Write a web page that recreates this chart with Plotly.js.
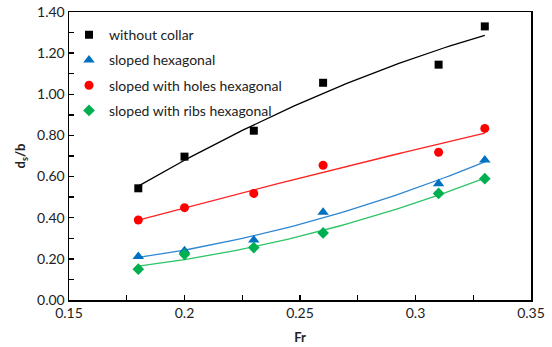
<!DOCTYPE html>
<html><head><meta charset="utf-8">
<script src="https://cdn.plot.ly/plotly-3.0.1.min.js"></script>
<style>html,body{margin:0;padding:0;background:#fff}#chart{width:552px;height:347px}</style>
</head><body><div id="chart"></div>
<script>
// Data
const fr = [0.18, 0.20, 0.23, 0.26, 0.31, 0.33];
const withoutCollar = [0.543, 0.697, 0.823, 1.056, 1.144, 1.330];
const slopedHex = [0.212, 0.240, 0.292, 0.427, 0.565, 0.680];
const slopedHoles = [0.389, 0.449, 0.518, 0.655, 0.718, 0.834];
const slopedRibs = [0.150, 0.222, 0.255, 0.326, 0.518, 0.590];
const seriesNames = ['without collar', 'sloped hexagonal', 'sloped with holes hexagonal', 'sloped with ribs hexagonal'];
const markerColors = ['#000000', '#0070C0', '#FF0000', '#00B050'];
const lineColors = ['#000000', '#2E86D1', '#FF2020', '#2CC466'];
const symbols = ['square', 'triangle-up', 'circle', 'diamond'];
const sizes = [8, 10, 9, 9];
const xTickVals = [0.15, 0.2, 0.25, 0.3, 0.35];
const xTickText = ['0.15', '0.2', '0.25', '0.3', '0.35'];

// Quadratic least-squares trendline (as a spreadsheet polynomial trendline)
function polyFit2(xs, ys) {
  let S = [0,0,0,0,0], T = [0,0,0];
  for (let i = 0; i < xs.length; i++) {
    let p = 1;
    for (let k = 0; k < 5; k++) { S[k] += p; if (k < 3) T[k] += p * ys[i]; p *= xs[i]; }
  }
  const A = [[S[0],S[1],S[2],T[0]],[S[1],S[2],S[3],T[1]],[S[2],S[3],S[4],T[2]]];
  for (let c = 0; c < 3; c++) {
    for (let r = c+1; r < 3; r++) { const f = A[r][c]/A[c][c]; for (let k = c; k < 4; k++) A[r][k] -= f*A[c][k]; }
  }
  const b = [0,0,0];
  for (let r = 2; r >= 0; r--) { let s = A[r][3]; for (let k = r+1; k < 3; k++) s -= A[r][k]*b[k]; b[r] = s/A[r][r]; }
  return b;
}
const allSeries = [withoutCollar, slopedHex, slopedHoles, slopedRibs];
const traces = [];
const xmin = fr[0], xmax = fr[fr.length-1];
const fitX = [];
for (let i = 0; i <= 60; i++) fitX.push(xmin + (xmax - xmin) * i / 60);
allSeries.forEach((ys, i) => {
  const c = polyFit2(fr, ys);
  traces.push({x: fitX, y: fitX.map(x => c[0] + c[1]*x + c[2]*x*x), mode: 'lines',
    line: {color: lineColors[i], width: 1.3}, showlegend: false, hoverinfo: 'skip'});
});
allSeries.forEach((ys, i) => {
  traces.push({x: fr, y: ys, mode: 'markers', name: seriesNames[i], legendgroup: 'g' + i,
    marker: {symbol: symbols[i], size: sizes[i], color: markerColors[i]}});
});

const fontFam = 'Lato, "Open Sans", sans-serif';
const layout = {
  width: 552, height: 347,
  margin: {l: 69, r: 21, t: 12, b: 47},
  paper_bgcolor: '#fff', plot_bgcolor: '#fff',
  font: {family: fontFam, size: 14, color: '#222'},
  showlegend: true,
  legend: {x: 0, y: 0.975, xanchor: 'left', yanchor: 'top', traceorder: 'grouped', tracegroupgap: 4,
    font: {family: fontFam, size: 14, color: '#222'}, bgcolor: 'rgba(0,0,0,0)'},
  xaxis: {range: [0.15, 0.35], tickvals: xTickVals, ticktext: xTickText, showgrid: false, zeroline: false,
    showline: true, linecolor: '#000', linewidth: 1.5, mirror: true,
    ticks: 'inside', ticklen: 5, tickcolor: '#000', tickwidth: 1.3,
    minor: {dtick: 0.025, ticks: 'inside', ticklen: 5, tickcolor: '#000', tickwidth: 1.3, showgrid: false},
    title: {text: '<b>Fr</b>', font: {family: fontFam, size: 13, color: '#222'}, standoff: 12},
    tickfont: {family: fontFam, size: 14, color: '#222'}},
  yaxis: {range: [0, 1.4], dtick: 0.2, tick0: 0, tickformat: '.2f', showgrid: false, zeroline: false,
    showline: true, linecolor: '#000', linewidth: 1.5, mirror: true,
    ticks: 'inside', ticklen: 5, tickcolor: '#000', tickwidth: 1.3,
    minor: {dtick: 0.1, ticks: 'inside', ticklen: 5, tickcolor: '#000', tickwidth: 1.3, showgrid: false},
    title: {text: '<b>d<sub>s</sub>/b</b>', font: {family: fontFam, size: 13, color: '#222'}, standoff: 8},
    tickfont: {family: fontFam, size: 14, color: '#222'}}
};
Plotly.newPlot('chart', traces, layout, {displayModeBar: false, staticPlot: true});
</script></body></html>
